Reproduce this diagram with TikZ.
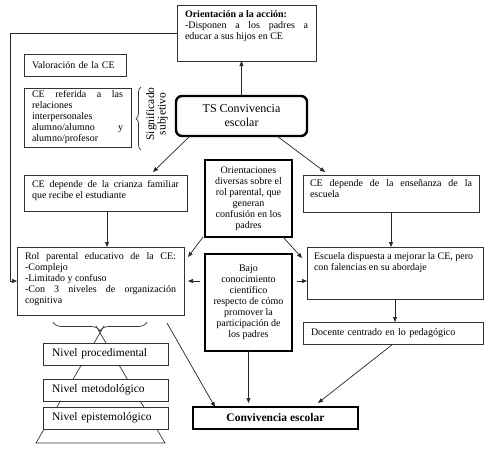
\documentclass[tikz,border=0pt]{standalone}
\usepackage{fontspec}
\setmainfont{Liberation Serif}
\usetikzlibrary{arrows.meta,decorations.pathreplacing,calc}
\hyphenpenalty=10000
\exhyphenpenalty=10000
\newcommand\tb[3]{\parbox[c][#2pt][t]{#1pt}{#3}}
\begin{document}
\begin{tikzpicture}[x=1pt,y=-1pt,
  box/.style={draw=black!80, line width=0.8pt, fill=white, anchor=north west, inner sep=0pt, outer sep=0pt, font=\fontsize{10}{11}\selectfont},
  thickbox/.style={box, draw=black, line width=1.5pt},
  arr/.style={-{Triangle[length=5pt,width=4pt]}, line width=0.7pt, draw=black!85},
  ln/.style={line width=0.7pt, draw=black!80}]
\useasboundingbox (0,0) rectangle (489,448);

% pyramid lines behind the level boxes
\coordinate (apL) at (104,326);
\coordinate (apR) at (96,326);
\coordinate (bl) at (36,443);
\coordinate (br) at (165,443);
\draw[ln] (apL) -- (bl) -- (br) -- (apR);

% boxes
\node[box, inner xsep=8pt, inner ysep=6pt] (orient) at (177,5)
  {\tb{123}{44}{\textbf{Orientación a la acción:}\\-Disponen a los padres a\linebreak educar a sus hijos en CE}};
\node[box, minimum width=102pt, minimum height=22pt, text width=86pt, inner xsep=8pt, align=left] (valor) at (24,54) {Valoración de la CE};
\node[box, minimum height=59pt, inner xsep=8pt] (ceref) at (24,88)
  {\parbox{91pt}{CE\hfill referida\hfill a\hfill las\\relaciones\\interpersonales\\alumno/alumno\hfill y\\alumno/profesor}};
\node[box, draw=black, line width=2.4pt, rounded corners=6pt, minimum width=131pt, minimum height=40pt, align=center, font=\fontsize{12}{14}\selectfont] (ts) at (176,96) {TS Convivencia\\escolar};
\node[box, inner xsep=8pt, inner ysep=5pt] (crianza) at (24,175)
  {\tb{147}{26}{CE depende de la crianza familiar\linebreak que recibe el estudiante}};
\node[box, inner xsep=7pt, inner ysep=5pt] (ense) at (303,175)
  {\tb{162}{27}{CE depende de la enseñanza de la\linebreak escuela}};
\node[thickbox, minimum width=87pt, minimum height=77pt, align=center] (orientac) at (205,160)
  {Orientaciones\\diversas sobre el\\rol parental, que\\generan\\confusión en los\\padres};
\node[box, inner xsep=8pt, inner ysep=6pt] (rol) at (17,247)
  {\tb{151}{56}{Rol parental educativo de la CE:\linebreak -Complejo\\-Limitado y confuso\\-Con 3 niveles de organización\linebreak cognitiva}};
\node[thickbox, minimum width=87pt, minimum height=97pt, align=center] (bajo) at (205,254)
  {Bajo\\conocimiento\\científico\\respecto de cómo\\promover la\\participación de\\los padres};
\node[box, inner xsep=7pt, inner ysep=6pt] (escuela) at (307,247)
  {\tb{162}{40}{Escuela dispuesta a mejorar la CE, pero\\con falencias en su abordaje}};
\node[box, minimum width=180pt, minimum height=22pt, text width=164pt, inner xsep=8pt, align=left] (docente) at (303,322) {Docente centrado en lo pedagógico};
\node[thickbox, minimum width=165pt, minimum height=22pt, font=\fontsize{11.5}{13}\selectfont\bfseries] (conv) at (193,407) {Convivencia escolar};
\node[box, minimum width=125pt, minimum height=22pt, text width=107pt, inner xsep=9pt, align=left, font=\fontsize{11.5}{13}\selectfont] (np) at (43,343) {Nivel procedimental};
\node[box, minimum width=125pt, minimum height=22pt, text width=107pt, inner xsep=9pt, align=left, font=\fontsize{11.5}{13}\selectfont] (nm) at (43,379) {Nivel metodológico};
\node[box, minimum width=125pt, minimum height=22pt, text width=107pt, inner xsep=9pt, align=left, font=\fontsize{11.5}{13}\selectfont] (ne) at (43,407) {Nivel epistemológico};

% significado subjetivo
\node[rotate=90, font=\fontsize{11.5}{11.5}\selectfont, align=center, inner sep=0pt] (sig) at (157,114) {Significado\\subjetivo};
\draw[ln, decorate, decoration={brace, amplitude=5pt}] (141,150) -- (141,87);
\draw[ln, decorate, decoration={brace, mirror, amplitude=9pt}] (53,322) -- (147,322);

% connectors
\draw[arr] (ts.north) -- (ts.north |- orient.south);
\draw[arr] ([xshift=14pt]ts.south west) -- ([xshift=-34pt,yshift=3pt]crianza.north east);
\draw[arr] ([xshift=-30pt]ts.south east) -- ([xshift=22pt,yshift=3pt]ense.north west);
\draw[arr] ([xshift=1.5pt]crianza.south) -- ([xshift=1.5pt]crianza.south |- rol.north);
\draw[arr] ([xshift=-2pt]orientac.south west) -- ([xshift=4pt,yshift=-10pt]rol.north east);
\draw[arr] ([xshift=-9pt]orientac.south east) -- ([xshift=-5pt,yshift=-11pt]escuela.north west);
\draw[arr] (ense.south) -- (ense.south |- escuela.north);
\draw[arr] ($(bajo.west |- rol.east)+(-5,0)$) -- ($(rol.east)+(4,0)$);
\draw[arr] ($(bajo.east |- rol.east)+(5,0)$) -- (escuela.west |- rol.east);
\draw[arr] (escuela.south) -- (escuela.south |- docente.north);
\draw[arr] (docente.south) -- ([xshift=-40pt,yshift=4pt]conv.north east);
\draw[arr] (bajo.south) -- ($(bajo.south |- conv.north)+(0,-4)$);
\draw[arr] ($(rol.south east)+(-17,8)$) -- ($(conv.north west)+(22,0)$);
\coordinate (lc) at (10,33);
\draw[arr] (orient.west) -- (lc) |- (rol.west);
\end{tikzpicture}
\end{document}
